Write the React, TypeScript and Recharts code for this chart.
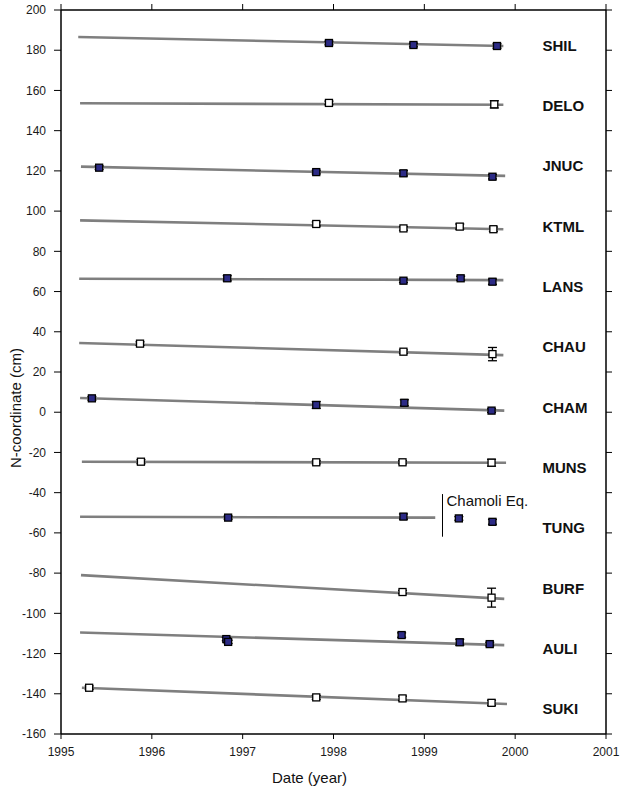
import React from 'react'
import {
	ComposedChart,
	XAxis,
	YAxis,
	Line,
	Scatter,
	ErrorBar,
	ReferenceLine,
	ReferenceDot,
	Label,
} from 'recharts'

// station names, top to bottom
const stations = ['SHIL', 'DELO', 'JNUC', 'KTML', 'LANS', 'CHAU', 'CHAM', 'MUNS', 'TUNG', 'BURF', 'AULI', 'SUKI']
const filled = [true, false, true, false, true, false, true, false, true, false, true, false]

// fitted trend: [startYear, startValue, endYear, endValue]
const trends = [
	[1995.19, 186.6, 1999.87, 182.1],
	[1995.21, 153.6, 1999.87, 152.9],
	[1995.22, 122.1, 1999.89, 117.5],
	[1995.21, 95.4, 1999.87, 91.0],
	[1995.2, 66.4, 1999.87, 65.7],
	[1995.2, 34.4, 1999.87, 28.4],
	[1995.21, 7.1, 1999.88, 0.8],
	[1995.23, -24.6, 1999.9, -25.1],
	[1995.21, -52.0, 1999.12, -52.4],
	[1995.22, -81.0, 1999.88, -92.8],
	[1995.21, -109.5, 1999.88, -115.8],
	[1995.23, -137.0, 1999.91, -145.1],
]

// survey points: [year, value, error]
const shil = [[1997.95, 183.6, 0.9], [1998.88, 182.6, 0.9], [1999.8, 182.1, 1.1]]
const delo = [[1997.95, 153.8, 0.9], [1999.77, 153.1, 1.8]]
const jnuc = [[1995.42, 121.6, 0.9], [1997.81, 119.4, 0.9], [1998.77, 118.8, 1.3], [1999.75, 117.1, 1.1]]
const ktml = [[1997.81, 93.6, 1.0], [1998.77, 91.4, 0.9], [1999.39, 92.3, 1.3], [1999.76, 91.0, 1.1]]
const lans = [[1996.83, 66.6, 1.3], [1998.77, 65.4, 0.9], [1999.4, 66.6, 1.0], [1999.75, 64.9, 1.3]]
const chau = [[1995.87, 34.1, 0.9], [1998.77, 30.1, 0.9], [1999.75, 28.9, 3.3]]
const cham = [[1995.34, 6.9, 0.9], [1997.81, 3.6, 1.7], [1998.78, 4.7, 1.5], [1999.74, 0.8, 0.9]]
const muns = [[1995.88, -24.6, 1.0], [1997.81, -24.9, 0.8], [1998.76, -24.9, 0.8], [1999.74, -25.1, 1.7]]
const tung = [[1996.84, -52.4, 0.8], [1998.77, -51.9, 1.3], [1999.38, -52.8, 0.9], [1999.75, -54.5, 1.2]]
const burf = [[1998.76, -89.4, 0.8], [1999.74, -92.2, 4.7]]
const auli = [[1996.82, -112.8, 0.8], [1996.84, -114.2, 0.8], [1998.75, -110.8, 1.1], [1999.39, -114.4, 1.5], [1999.72, -115.3, 0.9]]
const suki = [[1995.31, -137.0, 0.9], [1997.81, -141.8, 1.0], [1998.76, -142.3, 1.1], [1999.74, -144.5, 1.3]]
const points = [shil, delo, jnuc, ktml, lans, chau, cham, muns, tung, burf, auli, suki]

const xTicks = [1995, 1996, 1997, 1998, 1999, 2000, 2001]
const yTicks = [-160, -140, -120, -100, -80, -60, -40, -20, 0, 20, 40, 60, 80, 100, 120, 140, 160, 180, 200]

const NAVY = '#2c2b86'
const tickFont = { fontSize: 12, fill: '#1a1a1a' }

function Square(props: any) {
	const { cx, cy, fill } = props
	if (cx == null || cy == null) return null
	return <rect x={cx - 3.5} y={cy - 3.5} width={7} height={7} fill={fill} stroke="#000" strokeWidth={1.3} />
}

function StationLabel(props: any) {
	const { cx, cy, payload } = props
	return (
		<text x={cx} y={cy} dominantBaseline="central" fontSize={15} fontWeight="bold" fill="#111">
			{payload.name}
		</text>
	)
}

const labelData = stations.map((name, i) => ({ x: 2000.3, y: 182.5 - 30 * i, name }))

export default function App() {
	return (
		<div style={{ position: 'absolute', left: 0, top: 0, fontFamily: '"Liberation Sans", Arial, sans-serif' }}>
			<ComposedChart width={620} height={792} margin={{ top: 0, right: 0, bottom: 0, left: 0 }}>
				<XAxis
					dataKey="x"
					type="number"
					domain={[1995, 2001]}
					ticks={xTicks}
					interval={0}
					allowDataOverflow
					height={58}
					stroke="#000"
					axisLine={{ strokeWidth: 1.5 }}
					tickSize={5}
					tickMargin={8}
					tick={tickFont}
				>
					<Label
						content={(p: any) => {
							const vb = p.viewBox
							return (
								<text x={vb.x + vb.width / 2 - 24} y={vb.y + 49} textAnchor="middle" fontSize={15} fill="#111">
									Date (year)
								</text>
							)
						}}
					/>
				</XAxis>
				<XAxis
					xAxisId="top"
					orientation="top"
					dataKey="x"
					type="number"
					domain={[1995, 2001]}
					ticks={xTicks}
					interval={0}
					allowDataOverflow
					height={10}
					stroke="#000"
					axisLine={{ strokeWidth: 1.5 }}
					tickSize={6}
					tickFormatter={() => ''}
				/>
				<YAxis
					dataKey="y"
					type="number"
					domain={[-160, 200]}
					ticks={yTicks}
					interval={0}
					allowDataOverflow
					width={61}
					stroke="#000"
					axisLine={{ strokeWidth: 1.5 }}
					tickSize={7}
					tickMargin={8}
					tick={tickFont}
				>
					<Label
						content={(p: any) => {
							const vb = p.viewBox
							const cx = vb.x + 15
							const cy = vb.y + vb.height / 2 + 36
							return (
								<text
									x={cx}
									y={cy}
									textAnchor="middle"
									dominantBaseline="central"
									fontSize={15}
									fill="#111"
									transform={`rotate(-90 ${cx} ${cy})`}
								>
									N-coordinate (cm)
								</text>
							)
						}}
					/>
				</YAxis>
				<YAxis
					yAxisId="right"
					orientation="right"
					dataKey="y"
					type="number"
					domain={[-160, 200]}
					ticks={yTicks}
					interval={0}
					allowDataOverflow
					width={14}
					stroke="#000"
					axisLine={{ strokeWidth: 1.5 }}
					tickSize={6}
					tickFormatter={() => ''}
				/>

				{trends.map((t, i) => (
					<Line
						key={'trend-' + stations[i]}
						data={[
							{ x: t[0], y: t[1] },
							{ x: t[2], y: t[3] },
						]}
						dataKey="y"
						type="linear"
						stroke="#7f7f7f"
						strokeWidth={2.6}
						dot={false}
						activeDot={false}
						isAnimationActive={false}
						legendType="none"
					/>
				))}

				<ReferenceLine
					segment={[
						{ x: 1999.2, y: -40.7 },
						{ x: 1999.2, y: -61.9 },
					]}
					stroke="#000"
					strokeWidth={1}
				/>
				<ReferenceDot
					x={1999.2}
					y={-40.7}
					r={1}
					fill="none"
					stroke="none"
					label={{
						content: (p: any) => {
							const vb = p.viewBox
							return (
								<text x={vb.x + 5} y={vb.y + 13} fontSize={15} fill="#111">
									Chamoli Eq.
								</text>
							)
						},
					}}
				/>

				{points.map((pts, i) => (
					<Scatter
						key={'pts-' + stations[i]}
						data={pts.map((p) => ({ x: p[0], y: p[1], e: p[2] }))}
						fill={filled[i] ? NAVY : '#fff'}
						shape={<Square />}
						isAnimationActive={false}
						legendType="none"
					>
						<ErrorBar dataKey="e" direction="y" width={4.5} stroke="#000" strokeWidth={1.3} />
					</Scatter>
				))}

				<Scatter data={labelData} shape={<StationLabel />} isAnimationActive={false} legendType="none" />
			</ComposedChart>
		</div>
	)
}
